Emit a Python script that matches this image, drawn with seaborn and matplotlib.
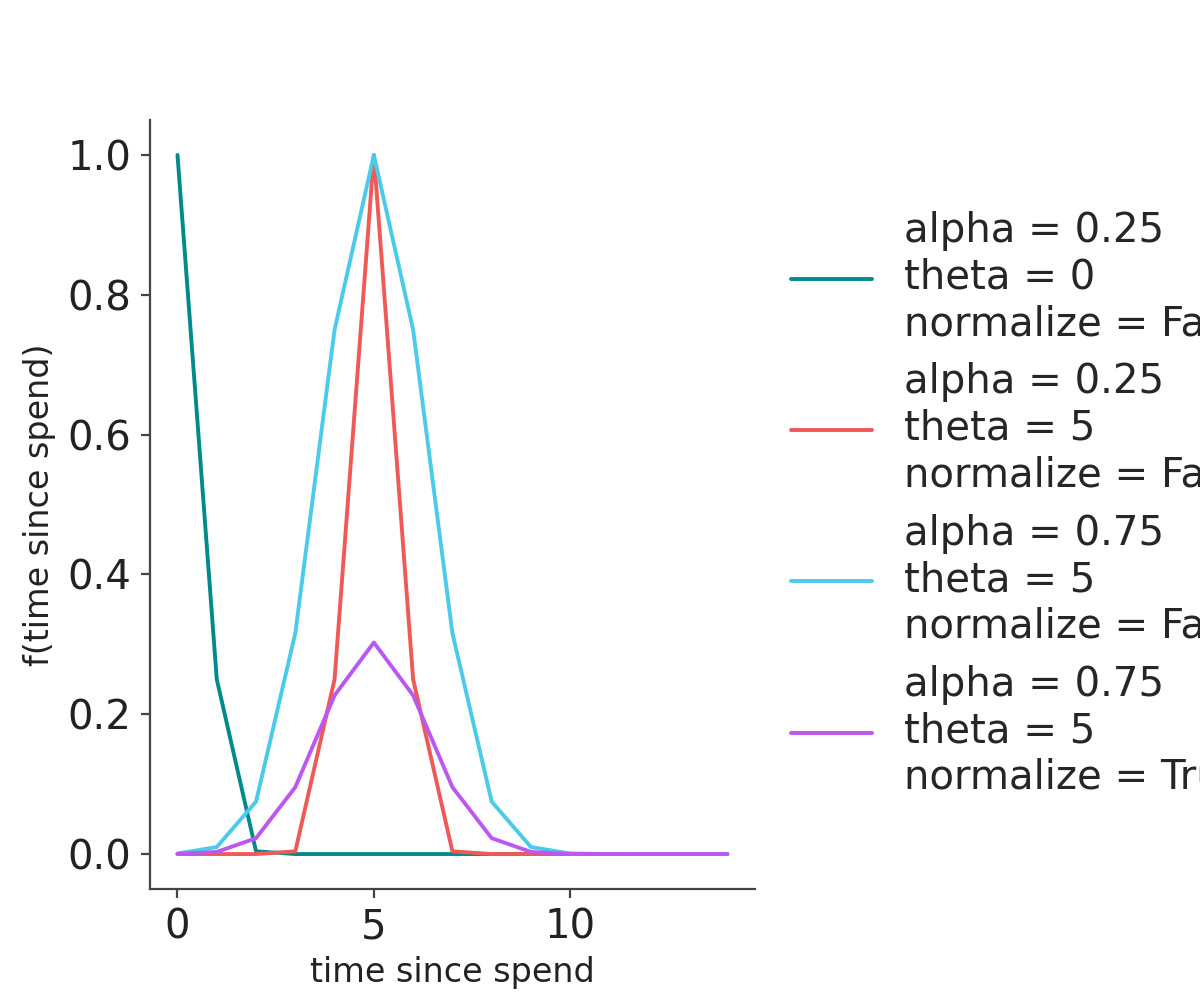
import numpy as np
import pandas as pd
import seaborn as sns
import matplotlib.pyplot as plt

# time since spend (x values)
t = list(range(15))

teal_vals = [1.0, 0.25, 0.0039, 0.0, 0.0, 0.0, 0.0, 0.0, 0.0, 0.0, 0.0, 0.0, 0.0, 0.0, 0.0]
red_vals = [0.0, 0.0, 0.0, 0.0039, 0.25, 1.0, 0.25, 0.0039, 0.0, 0.0, 0.0, 0.0, 0.0, 0.0, 0.0]
cyan_vals = [0.00075, 0.010, 0.075, 0.316, 0.75, 1.0, 0.75, 0.316, 0.075, 0.010, 0.00075, 0.00003, 0.0, 0.0, 0.0]
purple_vals = [0.00023, 0.0030, 0.0227, 0.0957, 0.227, 0.3026, 0.227, 0.0957, 0.0227, 0.0030, 0.00023, 0.00001, 0.0, 0.0, 0.0]

labels = [
    "alpha = 0.25\ntheta = 0\nnormalize = False",
    "alpha = 0.25\ntheta = 5\nnormalize = False",
    "alpha = 0.75\ntheta = 5\nnormalize = False",
    "alpha = 0.75\ntheta = 5\nnormalize = True",
]
colors = ["#008b8b", "#ef5a56", "#4acbea", "#bc58f0"]

df = pd.concat([
    pd.DataFrame({"time since spend": t, "f(time since spend)": vals, "params": lab})
    for vals, lab in zip([teal_vals, red_vals, cyan_vals, purple_vals], labels)
])

sns.set_theme(style="ticks")
plt.rcParams["font.family"] = ["DejaVu Sans"]

fig = plt.figure(figsize=(12, 10), dpi=100)
ax = fig.add_axes([0.125, 0.111, 0.504, 0.769])

sns.lineplot(data=df, x="time since spend", y="f(time since spend)", hue="params",
             palette=colors, linewidth=2.8, ax=ax)

sns.despine(ax=ax)
for s in ["left", "bottom"]:
    ax.spines[s].set_linewidth(1.6)
    ax.spines[s].set_color("#444444")
ax.tick_params(axis="both", labelsize=29, length=6.5, width=1.6, pad=7,
               color="#444444", labelcolor="#222222")
ax.set_xticks([0, 5, 10])
ax.set_yticks([0.0, 0.2, 0.4, 0.6, 0.8, 1.0])
ax.set_xlabel("time since spend", fontsize=24, color="#222222", labelpad=6)
ax.set_ylabel("f(time since spend)", fontsize=24, color="#222222", labelpad=8)

leg = ax.legend(loc="center left", bbox_to_anchor=(1.0, 0.5), frameon=False, fontsize=29,
                title=None, handlelength=2.0, labelspacing=0.45)
for txt in leg.get_texts():
    txt.set_linespacing(1.21)

fig.savefig("out.png", dpi=100)
